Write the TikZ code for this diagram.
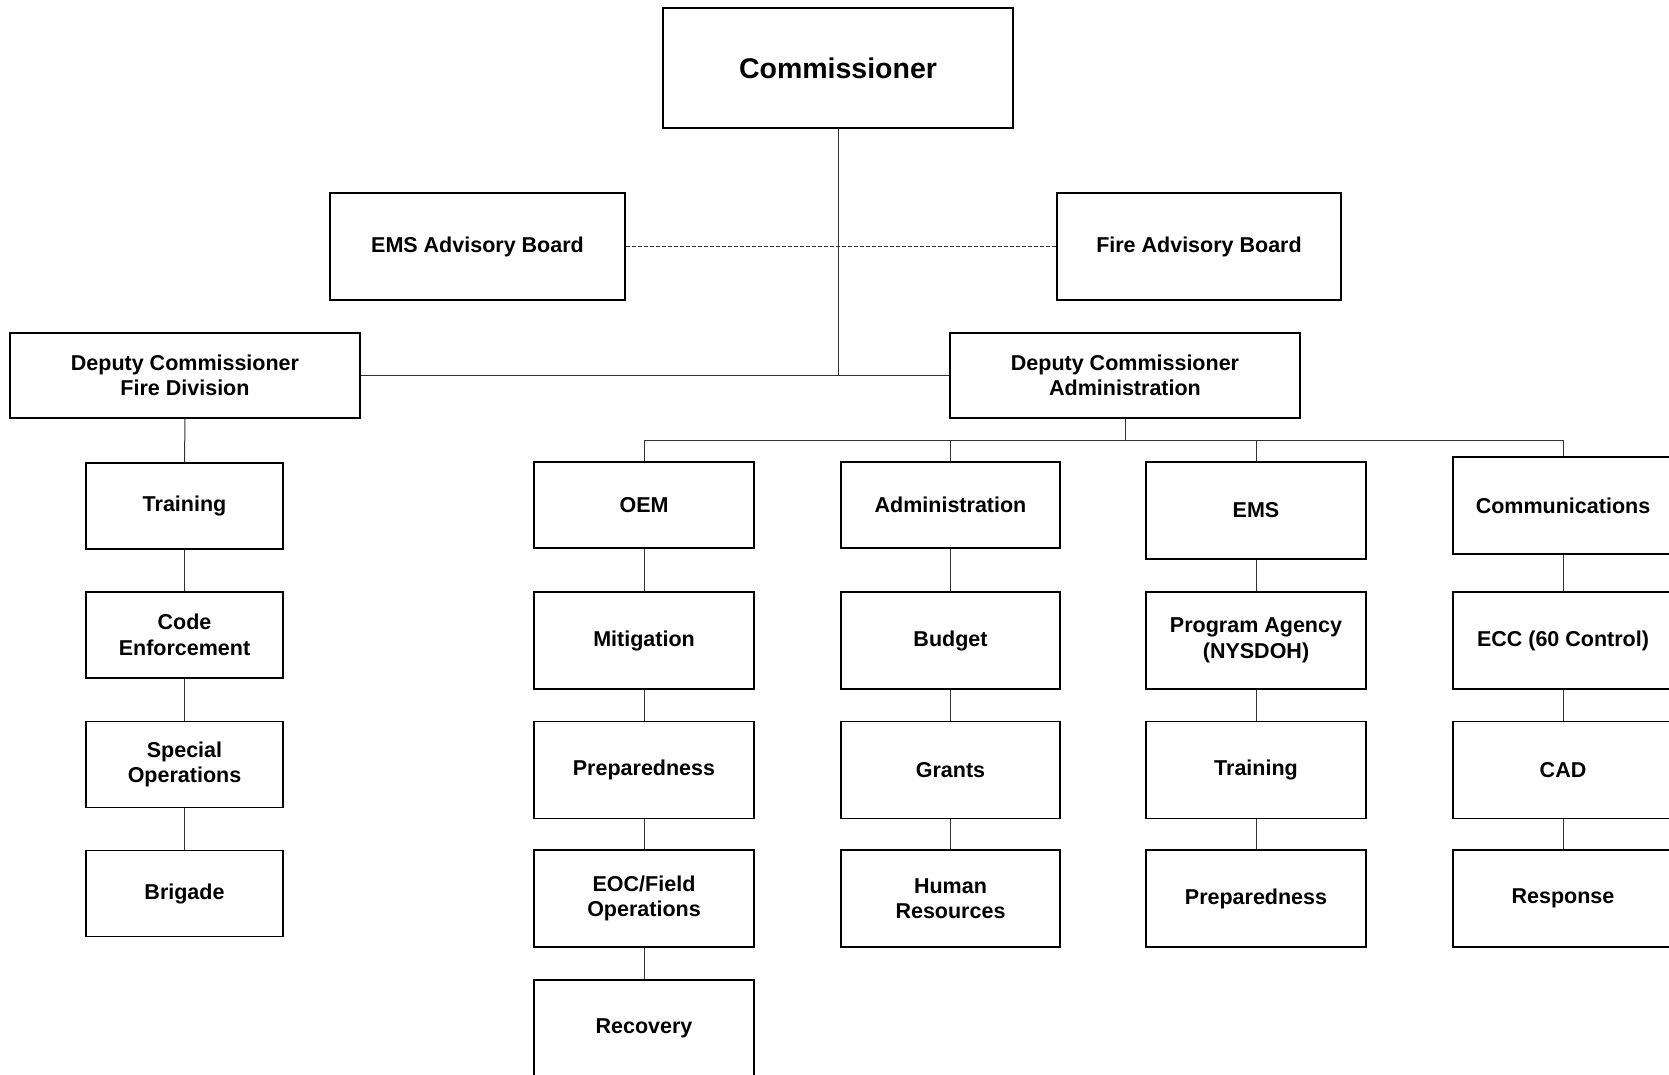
\documentclass[tikz,border=0pt]{standalone}
\usepackage{fontspec}
\setmainfont{Liberation Sans}
\begin{document}
\begin{tikzpicture}[x=1pt,y=-1pt,
  box/.style={draw=black,line width=1.5pt,fill=white,align=center,inner sep=2pt,
    font=\bfseries\fontsize{21.5}{25.5}\selectfont},
  conn/.style={draw=black!80,line width=1pt},
  dconn/.style={conn,dash pattern=on 4pt off 2pt}]
\useasboundingbox (0,0) rectangle (1669,1075);
\clip (0,0) rectangle (1669,1075);
% top
\node[box,minimum width=350,minimum height=120,font=\bfseries\fontsize{28.5}{33}\selectfont] (comm) at (838,68) {Commissioner};
\node[box,minimum width=295,minimum height=107] (emsab) at (477.5,246.5) {EMS Advisory Board};
\node[box,minimum width=284,minimum height=107] (fireab) at (1199,246.5) {Fire Advisory Board};
\node[box,minimum width=350,minimum height=85] (dfire) at (185,375.5) {Deputy Commissioner\\Fire Division};
\node[box,minimum width=350,minimum height=85] (dadmin) at (1125,375.5) {Deputy Commissioner\\Administration};
% fire column
\node[box,minimum width=197,minimum height=86] (ftrain) at (184.5,506) {Training};
\node[box,minimum width=197,minimum height=86] (code) at (184.5,635) {Code\\Enforcement};
\node[box,minimum width=197,minimum height=86] (spec) at (184.5,764.5) {Special\\Operations};
\node[box,minimum width=197,minimum height=86] (brig) at (184.5,893.5) {Brigade};
% OEM column
\node[box,minimum width=220,minimum height=86] (oem) at (644,505) {OEM};
\node[box,minimum width=220,minimum height=97] (mitig) at (644,640.5) {Mitigation};
\node[box,minimum width=220,minimum height=97] (oprep) at (644,770) {Preparedness};
\node[box,minimum width=220,minimum height=97] (eoc) at (644,898.5) {EOC/Field\\Operations};
\node[box,minimum width=220,minimum height=97] (recov) at (644,1028.5) {Recovery};
% administration column
\node[box,minimum width=219,minimum height=86] (adm) at (950.5,505) {Administration};
\node[box,minimum width=219,minimum height=97] (budget) at (950.5,640.5) {Budget};
\node[box,minimum width=219,minimum height=97] (grants) at (950.5,770) {Grants};
\node[box,minimum width=219,minimum height=97] (hr) at (950.5,898.5) {Human\\Resources};
% EMS column
\node[box,minimum width=220,minimum height=97] (ems) at (1256,510.5) {EMS};
\node[box,minimum width=220,minimum height=97] (prog) at (1256,640.5) {Program Agency\\(NYSDOH)};
\node[box,minimum width=220,minimum height=97] (etrain) at (1256,770) {Training};
\node[box,minimum width=220,minimum height=97] (eprep) at (1256,898.5) {Preparedness};
% communications column
\node[box,minimum width=220,minimum height=97] (commu) at (1563,505.5) {Communications};
\node[box,minimum width=220,minimum height=97] (ecc) at (1563,640.5) {ECC (60 Control)};
\node[box,minimum width=220,minimum height=97] (cad) at (1563,770) {CAD};
\node[box,minimum width=220,minimum height=97] (resp) at (1563,898.5) {Response};
% connectors
\coordinate (bus) at (1125,440);
\draw[conn] (comm.south) -- (comm.south |- dfire.east);
\draw[conn] (dfire.east) -- (dadmin.west);
\draw[dconn] (emsab.east) -- (fireab.west);
\draw[conn] (dadmin.south) -- (bus);
\draw[conn] (oem.north) -- (oem.north |- bus) -- (commu.north |- bus) -- (commu.north);
\draw[conn] (adm.north) -- (adm.north |- bus);
\draw[conn] (ems.north) -- (ems.north |- bus);
\draw[conn] (dfire.south) -- (ftrain.north);
\draw[conn] (ftrain.south) -- (code.north);
\draw[conn] (code.south) -- (spec.north);
\draw[conn] (spec.south) -- (brig.north);
\draw[conn] (oem.south) -- (mitig.north);
\draw[conn] (mitig.south) -- (oprep.north);
\draw[conn] (oprep.south) -- (eoc.north);
\draw[conn] (eoc.south) -- (recov.north);
\draw[conn] (adm.south) -- (budget.north);
\draw[conn] (budget.south) -- (grants.north);
\draw[conn] (grants.south) -- (hr.north);
\draw[conn] (ems.south) -- (prog.north);
\draw[conn] (prog.south) -- (etrain.north);
\draw[conn] (etrain.south) -- (eprep.north);
\draw[conn] (commu.south) -- (ecc.north);
\draw[conn] (ecc.south) -- (cad.north);
\draw[conn] (cad.south) -- (resp.north);
\end{tikzpicture}
\end{document}
